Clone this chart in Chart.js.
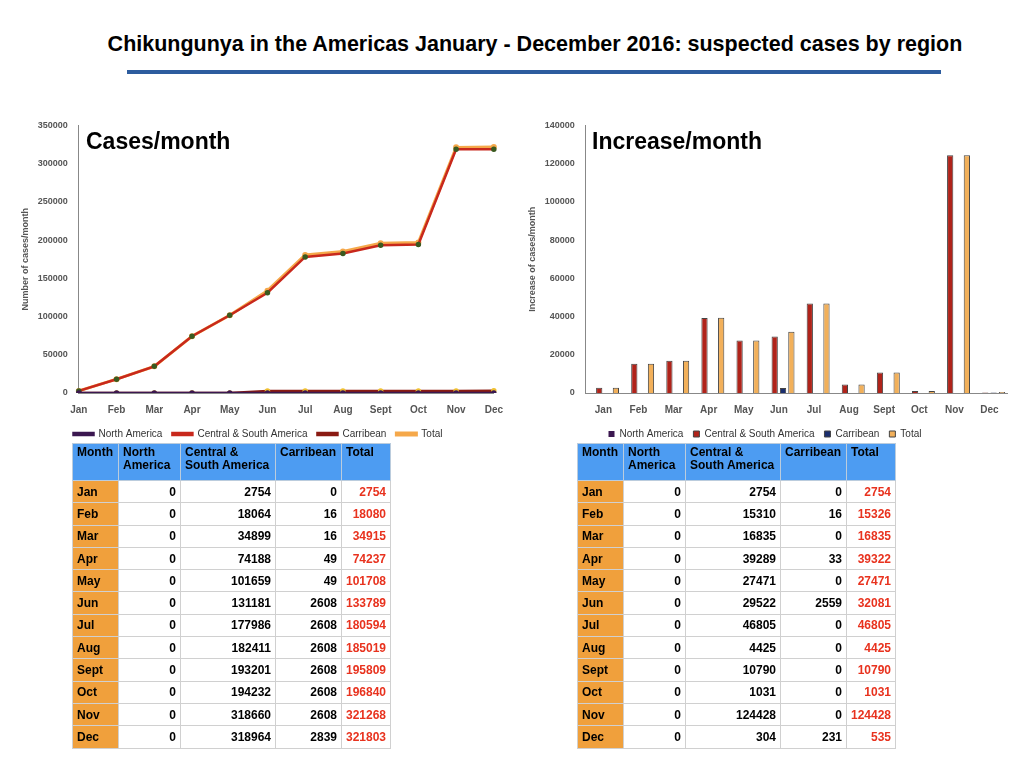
<!DOCTYPE html>
<html><head><meta charset="utf-8">
<script src="https://cdn.jsdelivr.net/npm/chart.js@4"></script>
<style>
body{margin:0;width:1024px;height:768px;background:#fff;font-family:"Liberation Sans",Arial,sans-serif;position:relative;overflow:hidden}
#title{position:absolute;left:0;top:32px;width:1070px;text-align:center;font-weight:bold;font-size:21.5px;color:#000}
#rule{position:absolute;left:127px;top:70px;width:814px;height:4px;background:#2d5c9e}
.cv{position:absolute}
.lbl{position:absolute;font-weight:bold;font-size:23px;color:#000}
table{position:absolute;border-collapse:collapse;font-size:12px;font-weight:bold}
td,th{border:1px solid #d0d0d0;padding:0 4px;height:21.3px}
th{background:#4d9cf2;text-align:left;vertical-align:top;height:34px;padding-top:2px;line-height:13px;border-color:#bcd}
td{text-align:right}
td.m{background:#f0a03c;text-align:left}
td.t{color:#e8321e}
</style></head><body>
<div id="title">Chikungunya in the Americas January - December 2016: suspected cases by region</div>
<div id="rule"></div>
<canvas id="c1" class="cv" width="490" height="332" style="left:16px;top:117px"></canvas>
<canvas id="c2" class="cv" width="490" height="332" style="left:523px;top:117px"></canvas>
<div class="lbl" style="left:86px;top:128px">Cases/month</div>
<div class="lbl" style="left:592px;top:128px">Increase/month</div>
<table id="t1" style="left:72px;top:443px"></table>
<table id="t2" style="left:577px;top:443px"></table>
<script>
const months=["Jan","Feb","Mar","Apr","May","Jun","Jul","Aug","Sept","Oct","Nov","Dec"];
const seriesNames=["North America","Central & South America","Carribean","Total"];
const cumNorth=[0,0,0,0,0,0,0,0,0,0,0,0];
const cumCentral=[2754,18064,34899,74188,101659,131181,177986,182411,193201,194232,318660,318964];
const cumCarib=[0,16,16,49,49,2608,2608,2608,2608,2608,2608,2839];
const cumTotal=[2754,18080,34915,74237,101708,133789,180594,185019,195809,196840,321268,321803];
const incNorth=[0,0,0,0,0,0,0,0,0,0,0,0];
const incCentral=[2754,15310,16835,39289,27471,29522,46805,4425,10790,1031,124428,304];
const incCarib=[0,16,0,33,0,2559,0,0,0,0,0,231];
const incTotal=[2754,15326,16835,39322,27471,32081,46805,4425,10790,1031,124428,535];
const lineColors=["#3b1750","#c8281c","#8a1a12","#f5a84a"];
const pointColors=["#3b1750","#3a5a20","#f0c030","#f5a84a"];
const barColors=["#3b1750","#b0231a","#1a2e6e","#f2b05a"];

function table(id,a,b,c,d){
  let h='<tr><th style="width:37px">Month</th><th style="width:53px">North<br>America</th><th style="width:86px">Central &amp;<br>South America</th><th style="width:57px">Carribean</th><th style="width:38px">Total</th></tr>';
  months.forEach((m,i)=>{h+=`<tr><td class="m">${m}</td><td>${a[i]}</td><td>${b[i]}</td><td>${c[i]}</td><td class="t">${d[i]}</td></tr>`});
  document.getElementById(id).innerHTML=h;
}
table("t1",cumNorth,cumCentral,cumCarib,cumTotal);
table("t2",incNorth,incCentral,incCarib,incTotal);

Chart.defaults.font.family='"Liberation Sans",Arial,sans-serif';
Chart.defaults.font.weight='bold';
Chart.defaults.color='#555';
const tickFont={size:10,weight:'bold'};
const yTicks={stepSize:0,font:{size:9,weight:'bold'},callback:v=>String(v)};
function legendOpts(box){return {position:'bottom',labels:{font:{size:10,weight:'normal'},color:'#333',boxWidth:box,boxHeight:box===6?6:2,padding:10}};}

new Chart(document.getElementById('c1'),{type:'line',
 data:{labels:months,datasets:[cumNorth,cumCentral,cumCarib,cumTotal].map((d,i)=>({label:seriesNames[i],data:d,borderColor:lineColors[i],backgroundColor:pointColors[i],pointBackgroundColor:pointColors[i],pointBorderColor:pointColors[i],borderWidth:i==3?3:2.5,pointRadius:1.5,tension:0}))},
 options:{responsive:false,animation:false,layout:{padding:{right:6}},
  plugins:{legend:legendOpts(20),tooltip:{enabled:false}},
  scales:{x:{grid:{display:false},border:{color:'#888'},ticks:{font:tickFont}},
   y:{min:0,max:350000,ticks:{...yTicks,stepSize:50000},grid:{display:false},border:{color:'#888'},
    title:{display:true,text:'Number of cases/month',font:{size:9,weight:'bold'},color:'#555'}}}}});

new Chart(document.getElementById('c2'),{type:'bar',
 data:{labels:months,datasets:[incNorth,incCentral,incCarib,incTotal].map((d,i)=>({label:seriesNames[i],data:d,backgroundColor:barColors[i],borderColor:'#444',borderWidth:i==0?0:1,categoryPercentage:0.95,barPercentage:0.75}))},
 options:{responsive:false,animation:false,layout:{padding:{right:6}},
  plugins:{legend:legendOpts(6),tooltip:{enabled:false}},
  scales:{x:{grid:{display:false},border:{color:'#888'},ticks:{font:tickFont}},
   y:{min:0,max:140000,ticks:{...yTicks,stepSize:20000},grid:{display:false},border:{color:'#888'},
    title:{display:true,text:'Increase of cases/month',font:{size:9,weight:'bold'},color:'#555'}}}}});
</script></body></html>
